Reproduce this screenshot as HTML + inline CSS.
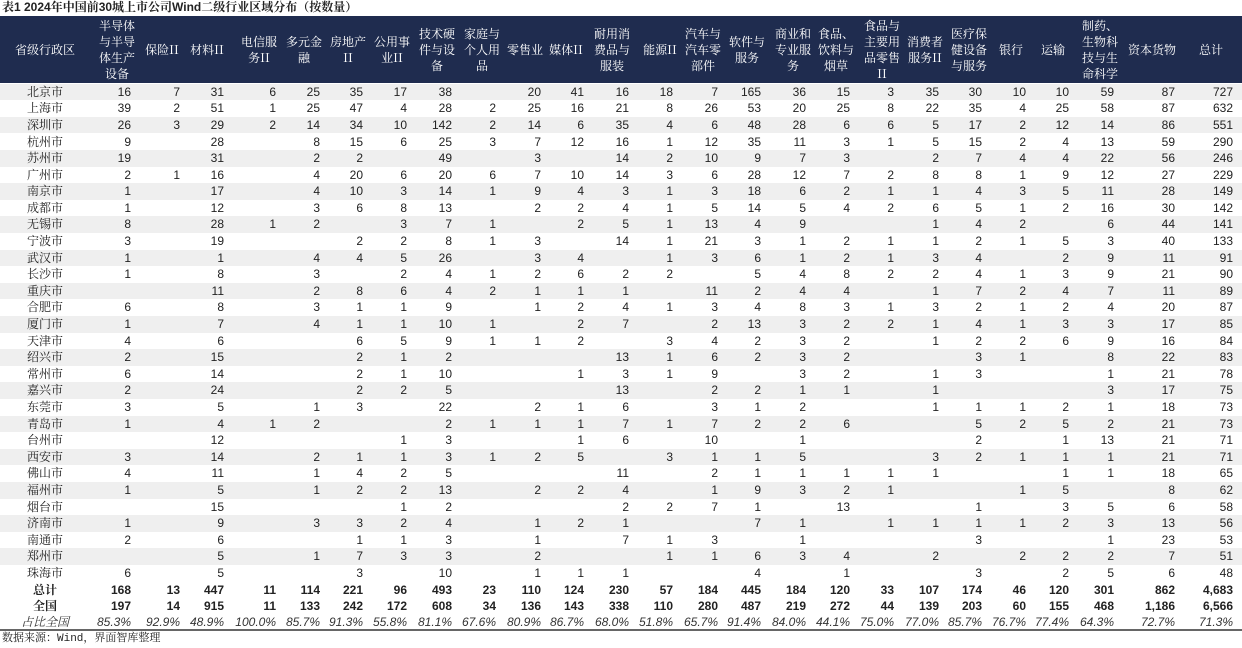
<!DOCTYPE html>
<html><head><meta charset="utf-8">
<style>
*{margin:0;padding:0;box-sizing:border-box}
body{width:1242px;height:648px;background:#fff;position:relative;overflow:hidden;font-family:"Liberation Sans","Noto Sans CJK SC",sans-serif;color:#222}
.t{position:absolute;left:2px;top:0;font-size:12px;font-weight:bold;line-height:14px;font-family:"Liberation Sans","Noto Serif CJK SC",serif;white-space:nowrap}
.hb{position:absolute;left:0;top:16px;width:1242px;height:67px;background:#1f2c4f}
.h{position:absolute;top:16px;height:67px;display:flex;align-items:center;justify-content:center;text-align:center;color:#fff;font-size:12px;line-height:16px;font-family:"Noto Serif CJK SC","Noto Sans CJK SC",serif;width:60px;transform:translateX(-50%);white-space:nowrap}
.r{position:absolute;left:0;width:1242px;height:16.6px;font-size:12px;line-height:16.6px}
.g{background:#efefef}
.r span{position:absolute;top:0;width:60px;text-align:right;white-space:nowrap}
.r span:nth-child(1){left:5px;width:80px;text-align:center;font-family:"Noto Serif CJK SC","Noto Sans CJK SC",serif}
.r span:nth-child(2){left:71px}.r span:nth-child(3){left:120px}.r span:nth-child(4){left:164px}
.r span:nth-child(5){left:216px}.r span:nth-child(6){left:260px}.r span:nth-child(7){left:303px}
.r span:nth-child(8){left:347px}.r span:nth-child(9){left:392px}.r span:nth-child(10){left:436px}
.r span:nth-child(11){left:481px}.r span:nth-child(12){left:524px}.r span:nth-child(13){left:569px}
.r span:nth-child(14){left:613px}.r span:nth-child(15){left:658px}.r span:nth-child(16){left:701px}
.r span:nth-child(17){left:746px}.r span:nth-child(18){left:790px}.r span:nth-child(19){left:834px}
.r span:nth-child(20){left:879px}.r span:nth-child(21){left:922px}.r span:nth-child(22){left:966px}
.r span:nth-child(23){left:1009px}.r span:nth-child(24){left:1054px}.r span:nth-child(25){left:1115px}
.r span:nth-child(26){left:1173px}
.b{font-weight:bold}
.p{font-style:italic;color:#333}
.line{position:absolute;left:0;top:629px;width:1242px;height:2px;background:#666}
.src{position:absolute;left:2px;top:632px;font-size:11px;line-height:15px;font-family:"Liberation Mono","Noto Serif CJK SC",serif;white-space:nowrap}
</style></head><body>
<div class="t">表1 2024年中国前30城上市公司Wind二级行业区域分布（按数量）</div>
<div class="hb"></div>
<div class="h" style="left:45px;width:80px">省级行政区</div>
<div class="h" style="left:117px">半导体<br>与半导<br>体生产<br>设备</div>
<div class="h" style="left:162px">保险II</div>
<div class="h" style="left:207px">材料II</div>
<div class="h" style="left:259px">电信服<br>务II</div>
<div class="h" style="left:304px">多元金<br>融</div>
<div class="h" style="left:348px">房地产<br>II</div>
<div class="h" style="left:392px">公用事<br>业II</div>
<div class="h" style="left:437px">技术硬<br>件与设<br>备</div>
<div class="h" style="left:482px">家庭与<br>个人用<br>品</div>
<div class="h" style="left:525px">零售业</div>
<div class="h" style="left:566px">媒体II</div>
<div class="h" style="left:612px">耐用消<br>费品与<br>服装</div>
<div class="h" style="left:660px">能源II</div>
<div class="h" style="left:703px">汽车与<br>汽车零<br>部件</div>
<div class="h" style="left:747px">软件与<br>服务</div>
<div class="h" style="left:793px">商业和<br>专业服<br>务</div>
<div class="h" style="left:836px">食品、<br>饮料与<br>烟草</div>
<div class="h" style="left:882px">食品与<br>主要用<br>品零售<br>II</div>
<div class="h" style="left:925px">消费者<br>服务II</div>
<div class="h" style="left:969px">医疗保<br>健设备<br>与服务</div>
<div class="h" style="left:1011px">银行</div>
<div class="h" style="left:1053px">运输</div>
<div class="h" style="left:1100px">制药、<br>生物科<br>技与生<br>命科学</div>
<div class="h" style="left:1152px;width:70px">资本货物</div>
<div class="h" style="left:1211px">总计</div>

<div class="r g" style="top:83.7px"><span>北京市</span><span>16</span><span>7</span><span>31</span><span>6</span><span>25</span><span>35</span><span>17</span><span>38</span><span></span><span>20</span><span>41</span><span>16</span><span>18</span><span>7</span><span>165</span><span>36</span><span>15</span><span>3</span><span>35</span><span>30</span><span>10</span><span>10</span><span>59</span><span>87</span><span>727</span></div>
<div class="r" style="top:100.3px"><span>上海市</span><span>39</span><span>2</span><span>51</span><span>1</span><span>25</span><span>47</span><span>4</span><span>28</span><span>2</span><span>25</span><span>16</span><span>21</span><span>8</span><span>26</span><span>53</span><span>20</span><span>25</span><span>8</span><span>22</span><span>35</span><span>4</span><span>25</span><span>58</span><span>87</span><span>632</span></div>
<div class="r g" style="top:116.9px"><span>深圳市</span><span>26</span><span>3</span><span>29</span><span>2</span><span>14</span><span>34</span><span>10</span><span>142</span><span>2</span><span>14</span><span>6</span><span>35</span><span>4</span><span>6</span><span>48</span><span>28</span><span>6</span><span>6</span><span>5</span><span>17</span><span>2</span><span>12</span><span>14</span><span>86</span><span>551</span></div>
<div class="r" style="top:133.5px"><span>杭州市</span><span>9</span><span></span><span>28</span><span></span><span>8</span><span>15</span><span>6</span><span>25</span><span>3</span><span>7</span><span>12</span><span>16</span><span>1</span><span>12</span><span>35</span><span>11</span><span>3</span><span>1</span><span>5</span><span>15</span><span>2</span><span>4</span><span>13</span><span>59</span><span>290</span></div>
<div class="r g" style="top:150.1px"><span>苏州市</span><span>19</span><span></span><span>31</span><span></span><span>2</span><span>2</span><span></span><span>49</span><span></span><span>3</span><span></span><span>14</span><span>2</span><span>10</span><span>9</span><span>7</span><span>3</span><span></span><span>2</span><span>7</span><span>4</span><span>4</span><span>22</span><span>56</span><span>246</span></div>
<div class="r" style="top:166.7px"><span>广州市</span><span>2</span><span>1</span><span>16</span><span></span><span>4</span><span>20</span><span>6</span><span>20</span><span>6</span><span>7</span><span>10</span><span>14</span><span>3</span><span>6</span><span>28</span><span>12</span><span>7</span><span>2</span><span>8</span><span>8</span><span>1</span><span>9</span><span>12</span><span>27</span><span>229</span></div>
<div class="r g" style="top:183.3px"><span>南京市</span><span>1</span><span></span><span>17</span><span></span><span>4</span><span>10</span><span>3</span><span>14</span><span>1</span><span>9</span><span>4</span><span>3</span><span>1</span><span>3</span><span>18</span><span>6</span><span>2</span><span>1</span><span>1</span><span>4</span><span>3</span><span>5</span><span>11</span><span>28</span><span>149</span></div>
<div class="r" style="top:199.9px"><span>成都市</span><span>1</span><span></span><span>12</span><span></span><span>3</span><span>6</span><span>8</span><span>13</span><span></span><span>2</span><span>2</span><span>4</span><span>1</span><span>5</span><span>14</span><span>5</span><span>4</span><span>2</span><span>6</span><span>5</span><span>1</span><span>2</span><span>16</span><span>30</span><span>142</span></div>
<div class="r g" style="top:216.4px"><span>无锡市</span><span>8</span><span></span><span>28</span><span>1</span><span>2</span><span></span><span>3</span><span>7</span><span>1</span><span></span><span>2</span><span>5</span><span>1</span><span>13</span><span>4</span><span>9</span><span></span><span></span><span>1</span><span>4</span><span>2</span><span></span><span>6</span><span>44</span><span>141</span></div>
<div class="r" style="top:233px"><span>宁波市</span><span>3</span><span></span><span>19</span><span></span><span></span><span>2</span><span>2</span><span>8</span><span>1</span><span>3</span><span></span><span>14</span><span>1</span><span>21</span><span>3</span><span>1</span><span>2</span><span>1</span><span>1</span><span>2</span><span>1</span><span>5</span><span>3</span><span>40</span><span>133</span></div>
<div class="r g" style="top:249.6px"><span>武汉市</span><span>1</span><span></span><span>1</span><span></span><span>4</span><span>4</span><span>5</span><span>26</span><span></span><span>3</span><span>4</span><span></span><span>1</span><span>3</span><span>6</span><span>1</span><span>2</span><span>1</span><span>3</span><span>4</span><span></span><span>2</span><span>9</span><span>11</span><span>91</span></div>
<div class="r" style="top:266.2px"><span>长沙市</span><span>1</span><span></span><span>8</span><span></span><span>3</span><span></span><span>2</span><span>4</span><span>1</span><span>2</span><span>6</span><span>2</span><span>2</span><span></span><span>5</span><span>4</span><span>8</span><span>2</span><span>2</span><span>4</span><span>1</span><span>3</span><span>9</span><span>21</span><span>90</span></div>
<div class="r g" style="top:282.8px"><span>重庆市</span><span></span><span></span><span>11</span><span></span><span>2</span><span>8</span><span>6</span><span>4</span><span>2</span><span>1</span><span>1</span><span>1</span><span></span><span>11</span><span>2</span><span>4</span><span>4</span><span></span><span>1</span><span>7</span><span>2</span><span>4</span><span>7</span><span>11</span><span>89</span></div>
<div class="r" style="top:299.4px"><span>合肥市</span><span>6</span><span></span><span>8</span><span></span><span>3</span><span>1</span><span>1</span><span>9</span><span></span><span>1</span><span>2</span><span>4</span><span>1</span><span>3</span><span>4</span><span>8</span><span>3</span><span>1</span><span>3</span><span>2</span><span>1</span><span>2</span><span>4</span><span>20</span><span>87</span></div>
<div class="r g" style="top:316px"><span>厦门市</span><span>1</span><span></span><span>7</span><span></span><span>4</span><span>1</span><span>1</span><span>10</span><span>1</span><span></span><span>2</span><span>7</span><span></span><span>2</span><span>13</span><span>3</span><span>2</span><span>2</span><span>1</span><span>4</span><span>1</span><span>3</span><span>3</span><span>17</span><span>85</span></div>
<div class="r" style="top:332.6px"><span>天津市</span><span>4</span><span></span><span>6</span><span></span><span></span><span>6</span><span>5</span><span>9</span><span>1</span><span>1</span><span>2</span><span></span><span>3</span><span>4</span><span>2</span><span>3</span><span>2</span><span></span><span>1</span><span>2</span><span>2</span><span>6</span><span>9</span><span>16</span><span>84</span></div>
<div class="r g" style="top:349.2px"><span>绍兴市</span><span>2</span><span></span><span>15</span><span></span><span></span><span>2</span><span>1</span><span>2</span><span></span><span></span><span></span><span>13</span><span>1</span><span>6</span><span>2</span><span>3</span><span>2</span><span></span><span></span><span>3</span><span>1</span><span></span><span>8</span><span>22</span><span>83</span></div>
<div class="r" style="top:365.8px"><span>常州市</span><span>6</span><span></span><span>14</span><span></span><span></span><span>2</span><span>1</span><span>10</span><span></span><span></span><span>1</span><span>3</span><span>1</span><span>9</span><span></span><span>3</span><span>2</span><span></span><span>1</span><span>3</span><span></span><span></span><span>1</span><span>21</span><span>78</span></div>
<div class="r g" style="top:382.4px"><span>嘉兴市</span><span>2</span><span></span><span>24</span><span></span><span></span><span>2</span><span>2</span><span>5</span><span></span><span></span><span></span><span>13</span><span></span><span>2</span><span>2</span><span>1</span><span>1</span><span></span><span>1</span><span></span><span></span><span></span><span>3</span><span>17</span><span>75</span></div>
<div class="r" style="top:399px"><span>东莞市</span><span>3</span><span></span><span>5</span><span></span><span>1</span><span>3</span><span></span><span>22</span><span></span><span>2</span><span>1</span><span>6</span><span></span><span>3</span><span>1</span><span>2</span><span></span><span></span><span>1</span><span>1</span><span>1</span><span>2</span><span>1</span><span>18</span><span>73</span></div>
<div class="r g" style="top:415.6px"><span>青岛市</span><span>1</span><span></span><span>4</span><span>1</span><span>2</span><span></span><span></span><span>2</span><span>1</span><span>1</span><span>1</span><span>7</span><span>1</span><span>7</span><span>2</span><span>2</span><span>6</span><span></span><span></span><span>5</span><span>2</span><span>5</span><span>2</span><span>21</span><span>73</span></div>
<div class="r" style="top:432.2px"><span>台州市</span><span></span><span></span><span>12</span><span></span><span></span><span></span><span>1</span><span>3</span><span></span><span></span><span>1</span><span>6</span><span></span><span>10</span><span></span><span>1</span><span></span><span></span><span></span><span>2</span><span></span><span>1</span><span>13</span><span>21</span><span>71</span></div>
<div class="r g" style="top:448.8px"><span>西安市</span><span>3</span><span></span><span>14</span><span></span><span>2</span><span>1</span><span>1</span><span>3</span><span>1</span><span>2</span><span>5</span><span></span><span>3</span><span>1</span><span>1</span><span>5</span><span></span><span></span><span>3</span><span>2</span><span>1</span><span>1</span><span>1</span><span>21</span><span>71</span></div>
<div class="r" style="top:465.4px"><span>佛山市</span><span>4</span><span></span><span>11</span><span></span><span>1</span><span>4</span><span>2</span><span>5</span><span></span><span></span><span></span><span>11</span><span></span><span>2</span><span>1</span><span>1</span><span>1</span><span>1</span><span>1</span><span></span><span></span><span>1</span><span>1</span><span>18</span><span>65</span></div>
<div class="r g" style="top:482px"><span>福州市</span><span>1</span><span></span><span>5</span><span></span><span>1</span><span>2</span><span>2</span><span>13</span><span></span><span>2</span><span>2</span><span>4</span><span></span><span>1</span><span>9</span><span>3</span><span>2</span><span>1</span><span></span><span></span><span>1</span><span>5</span><span></span><span>8</span><span>62</span></div>
<div class="r" style="top:498.6px"><span>烟台市</span><span></span><span></span><span>15</span><span></span><span></span><span></span><span>1</span><span>2</span><span></span><span></span><span></span><span>2</span><span>2</span><span>7</span><span>1</span><span></span><span>13</span><span></span><span></span><span>1</span><span></span><span>3</span><span>5</span><span>6</span><span>58</span></div>
<div class="r g" style="top:515.2px"><span>济南市</span><span>1</span><span></span><span>9</span><span></span><span>3</span><span>3</span><span>2</span><span>4</span><span></span><span>1</span><span>2</span><span>1</span><span></span><span></span><span>7</span><span>1</span><span></span><span>1</span><span>1</span><span>1</span><span>1</span><span>2</span><span>3</span><span>13</span><span>56</span></div>
<div class="r" style="top:531.8px"><span>南通市</span><span>2</span><span></span><span>6</span><span></span><span></span><span>1</span><span>1</span><span>3</span><span></span><span>1</span><span></span><span>7</span><span>1</span><span>3</span><span></span><span>1</span><span></span><span></span><span></span><span>3</span><span></span><span></span><span>1</span><span>23</span><span>53</span></div>
<div class="r g" style="top:548.4px"><span>郑州市</span><span></span><span></span><span>5</span><span></span><span>1</span><span>7</span><span>3</span><span>3</span><span></span><span>2</span><span></span><span></span><span>1</span><span>1</span><span>6</span><span>3</span><span>4</span><span></span><span>2</span><span></span><span>2</span><span>2</span><span>2</span><span>7</span><span>51</span></div>
<div class="r" style="top:565px"><span>珠海市</span><span>6</span><span></span><span>5</span><span></span><span></span><span>3</span><span></span><span>10</span><span></span><span>1</span><span>1</span><span>1</span><span></span><span></span><span>4</span><span></span><span>1</span><span></span><span></span><span>3</span><span></span><span>2</span><span>5</span><span>6</span><span>48</span></div>
<div class="r b" style="top:581.6px"><span>总计</span><span>168</span><span>13</span><span>447</span><span>11</span><span>114</span><span>221</span><span>96</span><span>493</span><span>23</span><span>110</span><span>124</span><span>230</span><span>57</span><span>184</span><span>445</span><span>184</span><span>120</span><span>33</span><span>107</span><span>174</span><span>46</span><span>120</span><span>301</span><span>862</span><span>4,683</span></div>
<div class="r b" style="top:598.2px"><span>全国</span><span>197</span><span>14</span><span>915</span><span>11</span><span>133</span><span>242</span><span>172</span><span>608</span><span>34</span><span>136</span><span>143</span><span>338</span><span>110</span><span>280</span><span>487</span><span>219</span><span>272</span><span>44</span><span>139</span><span>203</span><span>60</span><span>155</span><span>468</span><span>1,186</span><span>6,566</span></div>
<div class="r p" style="top:613.5px"><span>占比全国</span><span>85.3%</span><span>92.9%</span><span>48.9%</span><span>100.0%</span><span>85.7%</span><span>91.3%</span><span>55.8%</span><span>81.1%</span><span>67.6%</span><span>80.9%</span><span>86.7%</span><span>68.0%</span><span>51.8%</span><span>65.7%</span><span>91.4%</span><span>84.0%</span><span>44.1%</span><span>75.0%</span><span>77.0%</span><span>85.7%</span><span>76.7%</span><span>77.4%</span><span>64.3%</span><span>72.7%</span><span>71.3%</span></div>
<div class="line"></div>
<div class="src">数据来源：Wind，界面智库整理</div>
</body></html>
